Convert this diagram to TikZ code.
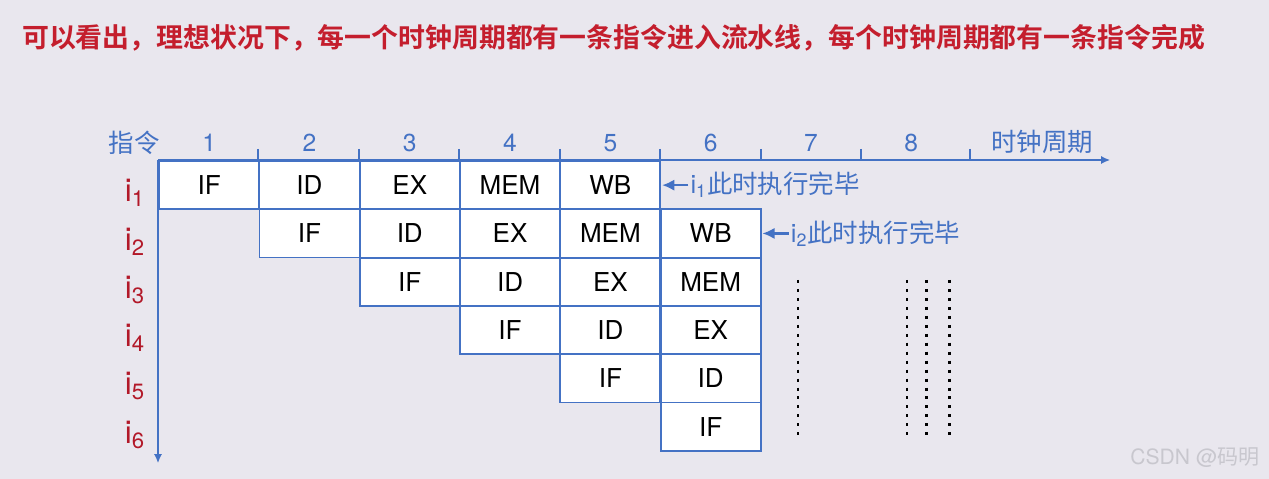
\documentclass[tikz,border=0pt]{standalone}
\usepackage{fontspec}
\setmainfont{TeX Gyre Heros}
\newfontfamily\cjk{Noto Sans CJK SC}
\newfontfamily\cjkb{Noto Sans CJK SC Bold}
\usetikzlibrary{arrows.meta,positioning}
\definecolor{bgpaper}{RGB}{233,231,238}
\definecolor{pipeblue}{RGB}{68,114,196}
\definecolor{titlered}{RGB}{196,30,45}
\definecolor{idxred}{RGB}{178,24,40}
\definecolor{markgray}{RGB}{200,199,206}
\tikzset{
  stage/.style={draw=pipeblue, line width=1pt, fill=white, minimum width=2cm,
    minimum height=0.965cm, inner sep=0pt, outer sep=0pt, font=\fontsize{14.8}{14.8}\selectfont},
  axisline/.style={pipeblue, line width=0.7pt},
  num/.style={text=pipeblue, font=\fontsize{14}{14}\selectfont},
  axlabel/.style={text=pipeblue, font=\fontsize{14.5}{14.5}\selectfont\cjk},
  idx/.style={text=idxred, font=\fontsize{18}{18}\selectfont},
  note/.style={text=pipeblue, inner sep=0pt, font=\fontsize{14.5}{14.5}\selectfont},
  donearrow/.style={pipeblue, line width=1.3pt, -{Latex[length=7pt,width=6.5pt]},
    shorten >=1pt, shorten <=1pt},
  dotcol/.style={line width=1.7pt, dash pattern=on 1.7pt off 3.4pt},
}
\begin{document}
\begin{tikzpicture}[x=0.02cm, y=-0.02cm, >={Latex[length=5pt,width=4.5pt]}]
% 背景
\fill[bgpaper] (0,0) rectangle (1269,479);
\useasboundingbox (0,0) rectangle (1269,479);
% 标题
\node[anchor=west, text=titlered, font=\fontsize{15.3}{15.3}\selectfont\cjkb] (head) at (16,38)
  {可以看出，理想状况下，每一个时钟周期都有一条指令进入流水线，每个时钟周期都有一条指令完成};
% 坐标轴
\coordinate (o) at (158,160);
\coordinate (xend) at (1110,160);
\coordinate (yend) at (158,463);
\draw[axisline,->] (o) -- (xend);
\draw[axisline,->] (o) -- (yend);
\foreach \x in {258,359,459,560,660,761,861,970}
  \draw[axisline] (\x,149) -- (\x,160);
% 时钟周期编号
\foreach \n in {1,...,8}
  \node[num] (t\n) at ({159+(\n-0.5)*100.3},143) {\n};
\node[axlabel] (cmd) at (134,143) {指令};
\node[axlabel] (clk) at (1042,142) {时钟周期};
% 指令编号
\foreach \r in {1,...,6}
  \node[idx] (l\r) at (135,{161+(\r-0.5)*48.3+8}) {i\textsubscript{\r}};
% 流水线各段
\foreach \r in {1,...,6} {
  \foreach \s [count=\k] in {IF,ID,EX,MEM,WB} {
    \pgfmathtruncatemacro\c{\r+\k-1}
    \ifnum\c<7
      \node[stage] (i\r-\s) at ({159+(\c-0.5)*100.3},{161+(\r-0.5)*48.3}) {\s};
    \fi
  }
}
% 执行完毕标注
\node[note, right=17pt of i1-WB] (done1) {i\textsubscript{1}\cjk 此时执行完毕};
\node[note, right=17pt of i2-WB] (done2) {i\textsubscript{2}\cjk 此时执行完毕};
\draw[donearrow] (done1.west) -- (i1-WB.east);
\draw[donearrow] (done2.west) -- (i2-WB.east);
% 省略号
\foreach \x in {798,907,926,949}
  \draw[dotcol] (\x,280) -- (\x,436);
% 水印
\node[text=markgray, font=\fontsize{12}{12}\selectfont] (mark) at (1195,458) {CSDN @\cjk 码明};
\end{tikzpicture}
\end{document}
